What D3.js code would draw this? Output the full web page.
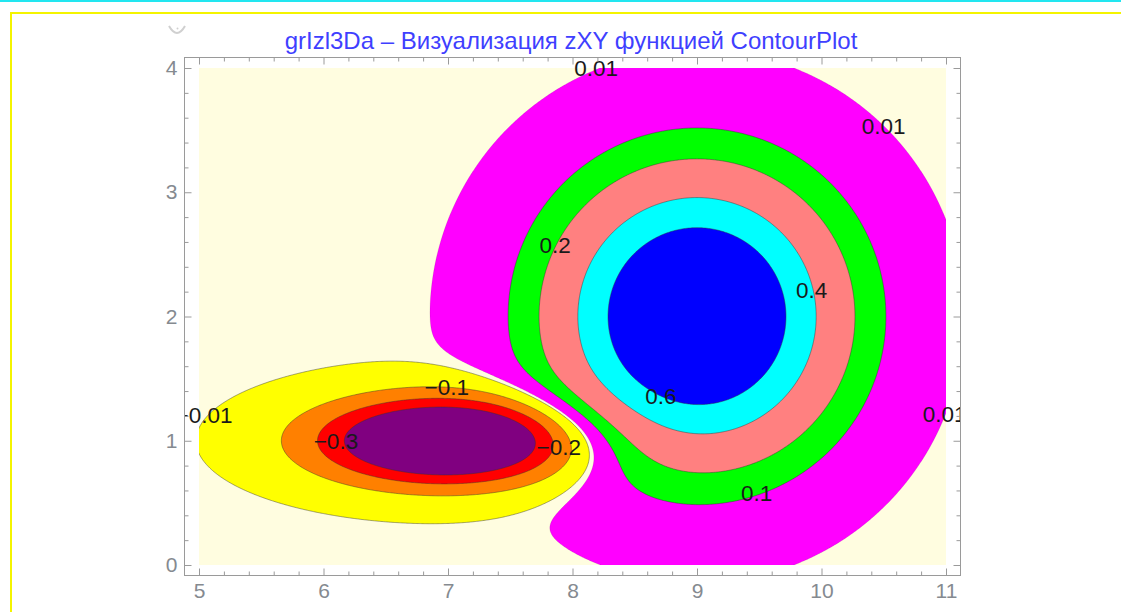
<!DOCTYPE html>
<html>
<head>
<meta charset="utf-8">
<script src="https://cdn.jsdelivr.net/npm/d3@7"></script>
<style>
  html, body { margin: 0; padding: 0; background: #fff; }
  svg { display: block; }
  text { font-family: "Liberation Sans", Arial, sans-serif; }
</style>
</head>
<body>
<svg id="chart" width="1121" height="612"></svg>
<script>
// Surface z(x, y): sum of two Gaussian bumps (amplitude, centre, e-fold widths)
const bumpAmp = [1.0, -0.6];
const bumpCx  = [9, 7];
const bumpCy  = [2, 1];
const bumpWx  = [1, 1];
const bumpWy  = [1, 1 / 3];

// Plot range
const xDomain = [5, 11];
const yDomain = [0, 4];

// Contour levels and the fill colour of each band (one more colour than levels)
const levels = [-0.3, -0.2, -0.1, -0.01, 0.01, 0.1, 0.2, 0.4, 0.6];
const bandColors = ["#800080", "#ff0000", "#ff8000", "#ffff00", "#fffde0",
                    "#ff00ff", "#00ff00", "#ff8080", "#00ffff", "#0000ff"];

// Contour labels: level shown and where it sits on its line
const labelLevel = [0.01, 0.01, 0.2, 0.4, 0.6, 0.1, 0.01, -0.1, -0.3, -0.2, -0.01];
const labelX     = [8.19, 10.50, 7.86, 9.92, 8.71, 9.48, 10.99, 6.99, 6.10, 7.89, 5.04];
const labelY     = [4.00, 3.53, 2.575, 2.213, 1.36, 0.579, 1.22, 1.43, 1.00, 0.95, 1.207];

// Axis ticks
const xTicks = [5, 6, 7, 8, 9, 10, 11];
const yTicks = [0, 1, 2, 3, 4];
const xMinor = d3.range(5, 11.001, 0.2).map(v => +v.toFixed(1)).filter(v => !xTicks.includes(v));
const yMinor = d3.range(0, 4.001, 0.2).map(v => +v.toFixed(1)).filter(v => !yTicks.includes(v));

const title = "grIzl3Da – Визуализация zXY функцией ContourPlot";

function z(x, y) {
  let s = 0;
  for (let k = 0; k < bumpAmp.length; k++) {
    const u = (x - bumpCx[k]) / bumpWx[k];
    const v = (y - bumpCy[k]) / bumpWy[k];
    s += bumpAmp[k] * Math.exp(-u * u - v * v);
  }
  return s;
}

const svg = d3.select("#chart");

// Notebook cell decorations
svg.append("rect").attr("x", 0).attr("y", 0).attr("width", 1121).attr("height", 2)
  .attr("fill", "#22e6f0");
svg.append("rect").attr("x", 11).attr("y", 13).attr("width", 1200).attr("height", 700)
  .attr("fill", "none").attr("stroke", "#f4f400").attr("stroke-width", 2);
svg.append("path").attr("d", "M169,26 Q177,40 185,26")
  .attr("fill", "none").attr("stroke", "#d0d0d0").attr("stroke-width", 2);
svg.append("circle").attr("cx", 177.5).attr("cy", 28.5).attr("r", 1).attr("fill", "#d0d0d0");

// Scales
const x = d3.scaleLinear().domain(xDomain).range([199, 946]);
const y = d3.scaleLinear().domain(yDomain).range([565, 68]);

// Frame box (a little larger than the data range)
const frame = { left: 184.5, right: 960.5, top: 57.5, bottom: 575.5 };

const defs = svg.append("defs");
defs.append("clipPath").attr("id", "dataClip").append("rect")
  .attr("x", 199).attr("y", 68).attr("width", 946 - 199).attr("height", 565 - 68);
defs.append("clipPath").attr("id", "frameClip").append("rect")
  .attr("x", frame.left).attr("y", frame.top)
  .attr("width", frame.right - frame.left).attr("height", frame.bottom - frame.top);

// Sample grid (a few cells beyond the plot range so edges are clipped cleanly)
const step = 0.01, pad = 3;
const gx0 = xDomain[0] - pad * step, gy0 = yDomain[0] - pad * step;
const nx = Math.round((xDomain[1] - xDomain[0]) / step) + 1 + 2 * pad;
const ny = Math.round((yDomain[1] - yDomain[0]) / step) + 1 + 2 * pad;
const values = new Float64Array(nx * ny);
for (let j = 0; j < ny; j++) {
  const yy = gy0 + j * step;
  for (let i = 0; i < nx; i++) values[j * nx + i] = z(gx0 + i * step, yy);
}

const contourGen = d3.contours().size([nx, ny]).thresholds(levels);
const contourSets = contourGen(values);

const toScreen = d3.geoTransform({
  point: function (u, v) {
    this.stream.point(x(gx0 + (u - 0.5) * step), y(gy0 + (v - 0.5) * step));
  }
});
const path = d3.geoPath(toScreen);

const plot = svg.append("g").attr("clip-path", "url(#dataClip)");
plot.append("rect").attr("x", 199).attr("y", 68).attr("width", 946 - 199).attr("height", 565 - 68)
  .attr("fill", bandColors[0]);
plot.selectAll("path.band").data(contourSets).join("path")
  .attr("class", "band")
  .attr("d", path)
  .attr("fill", (d, i) => bandColors[i + 1]);
plot.selectAll("path.line").data(contourSets).join("path")
  .attr("class", "line")
  .attr("d", path)
  .attr("fill", "none")
  .attr("stroke", "#333")
  .attr("stroke-opacity", d => d.value > 0 && d.value < 0.05 ? 0.12 : 0.5)
  .attr("stroke-width", 0.9);

// Contour labels (clipped by the frame)
const fmt = v => String(v).replace("-", "\u2212");
svg.append("g").attr("clip-path", "url(#frameClip)")
  .selectAll("text").data(labelLevel).join("text")
  .attr("x", (d, i) => x(labelX[i]))
  .attr("y", (d, i) => y(labelY[i]))
  .attr("text-anchor", "middle")
  .attr("dy", "0.36em")
  .attr("font-size", 22.5)
  .attr("fill", "#1a1a1a")
  .text(fmt);

// Frame
svg.append("rect")
  .attr("x", frame.left).attr("y", frame.top)
  .attr("width", frame.right - frame.left).attr("height", frame.bottom - frame.top)
  .attr("fill", "none").attr("stroke", "#9a9a9a").attr("stroke-width", 1);

function styleAxis(g) {
  g.select(".domain").remove();
  g.selectAll("line").attr("stroke", "#9a9a9a");
  g.selectAll("text").attr("fill", "#858a90").attr("font-size", 21)
    .attr("font-family", "'Liberation Sans', Arial, sans-serif");
}

const major = 7, minor = 4;
// bottom
svg.append("g").attr("transform", `translate(0,${frame.bottom})`)
  .call(d3.axisBottom(x).tickValues(xTicks).tickSize(-major).tickPadding(8).tickFormat(d3.format("d")))
  .call(styleAxis);
svg.append("g").attr("transform", `translate(0,${frame.bottom})`)
  .call(d3.axisBottom(x).tickValues(xMinor).tickSize(-minor).tickFormat(""))
  .call(styleAxis);
// top
svg.append("g").attr("transform", `translate(0,${frame.top})`)
  .call(d3.axisTop(x).tickValues(xTicks).tickSize(-major).tickFormat(""))
  .call(styleAxis);
svg.append("g").attr("transform", `translate(0,${frame.top})`)
  .call(d3.axisTop(x).tickValues(xMinor).tickSize(-minor).tickFormat(""))
  .call(styleAxis);
// left
svg.append("g").attr("transform", `translate(${frame.left},0)`)
  .call(d3.axisLeft(y).tickValues(yTicks).tickSize(-major).tickPadding(7).tickFormat(d3.format("d")))
  .call(styleAxis);
svg.append("g").attr("transform", `translate(${frame.left},0)`)
  .call(d3.axisLeft(y).tickValues(yMinor).tickSize(-minor).tickFormat(""))
  .call(styleAxis);
// right
svg.append("g").attr("transform", `translate(${frame.right},0)`)
  .call(d3.axisRight(y).tickValues(yTicks).tickSize(-major).tickFormat(""))
  .call(styleAxis);
svg.append("g").attr("transform", `translate(${frame.right},0)`)
  .call(d3.axisRight(y).tickValues(yMinor).tickSize(-minor).tickFormat(""))
  .call(styleAxis);

// Title
svg.append("text")
  .attr("x", 571).attr("y", 49)
  .attr("text-anchor", "middle")
  .attr("font-size", 24)
  .attr("fill", "#3f3fff")
  .text(title);
</script>
</body>
</html>
